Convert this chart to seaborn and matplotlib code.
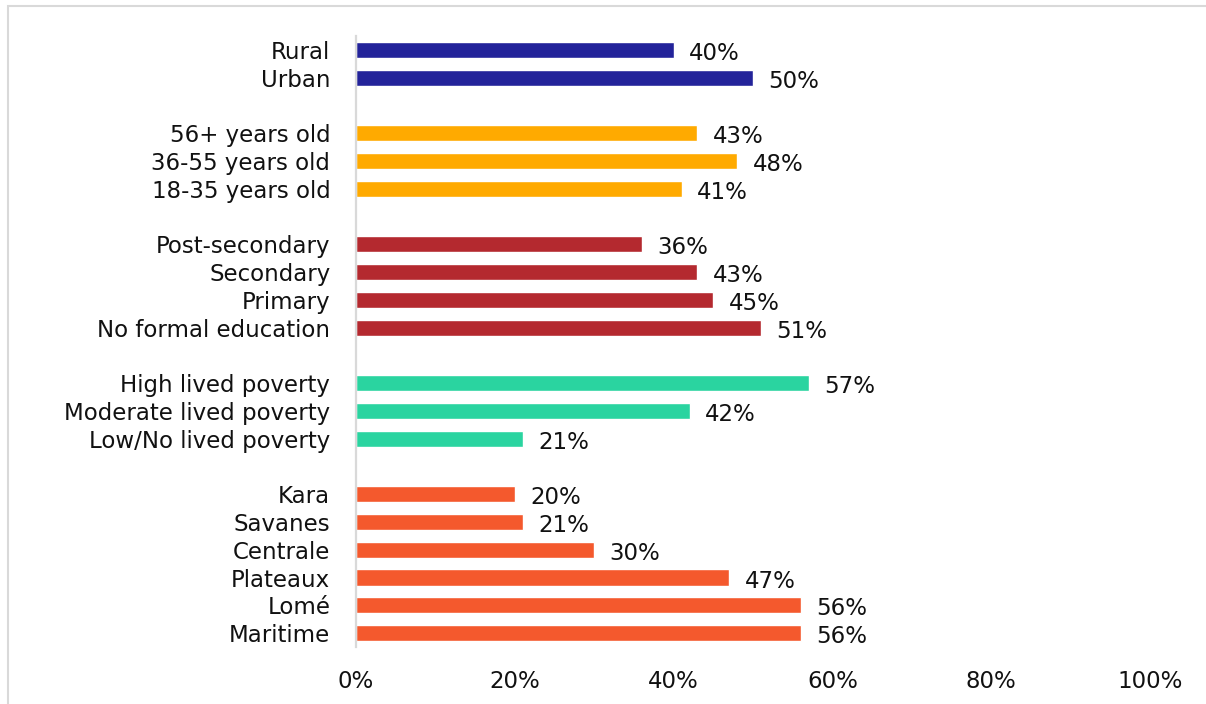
import matplotlib
matplotlib.use("Agg")
import matplotlib.pyplot as plt
import matplotlib.patches as mpatches
import seaborn as sns
import pandas as pd

# Survey breakdown: share of respondents (%) by demographic group
location = ["Rural", "Urban"]
location_vals = [40, 50]

age = ["56+ years old", "36-55 years old", "18-35 years old"]
age_vals = [43, 48, 41]

education = ["Post-secondary", "Secondary", "Primary", "No formal education"]
education_vals = [36, 43, 45, 51]

poverty = ["High lived poverty", "Moderate lived poverty", "Low/No lived poverty"]
poverty_vals = [57, 42, 21]

region = ["Kara", "Savanes", "Centrale", "Plateaux", "Lomé", "Maritime"]
region_vals = [20, 21, 30, 47, 56, 56]

groups = [
    ("Location", location, location_vals, "#23239A"),
    ("Age", age, age_vals, "#FFAA00"),
    ("Education", education, education_vals, "#B4292F"),
    ("Poverty", poverty, poverty_vals, "#2AD4A0"),
    ("Region", region, region_vals, "#F4592D"),
]

x_ticks = [0, 20, 40, 60, 80, 100]
x_ticklabels = ["0%", "20%", "40%", "60%", "80%", "100%"]

rows = []
order = []
palette = {}
for i, (gname, labels, vals, color) in enumerate(groups):
    if i > 0:
        order.append(" " * i)  # blank slot between groups
    for lab, v in zip(labels, vals):
        rows.append({"label": lab, "value": v, "group": gname})
        order.append(lab)
    palette[gname] = color
df = pd.DataFrame(rows)

sns.set_theme(style="white")
plt.rcParams["font.family"] = ["DejaVu Sans"]

FS = 16.5
fig = plt.figure(figsize=(12.06, 7.04), dpi=100)
ax = fig.add_axes([0.2952, 0.0810, 0.9536 - 0.2952, 0.9489 - 0.0810])

sns.barplot(data=df, x="value", y="label", hue="group", order=order,
            palette=palette, dodge=False, width=0.58, saturation=1,
            legend=False, ax=ax)

for container in ax.containers:
    for patch in container:
        w = patch.get_width()
        if w != w:  # skip empty slots
            continue
        ax.annotate(f"{w:.0f}%", xy=(w, patch.get_y() + patch.get_height() / 2),
                    xytext=(11, -2.5), textcoords="offset points",
                    ha="left", va="center", fontsize=FS, color="#111111")

ax.set_xlim(0, 100)
ax.set_ylim(len(order) - 0.5, -0.5)
ax.set_xticks(x_ticks)
ax.set_xticklabels(x_ticklabels)
ax.set_xlabel("")
ax.set_ylabel("")
ax.tick_params(axis="x", length=0, pad=16.5, labelsize=FS, labelcolor="#111111")
ax.tick_params(axis="y", length=0, pad=18.5, labelsize=FS, labelcolor="#111111")

for side in ["top", "right", "bottom"]:
    ax.spines[side].set_visible(False)
ax.spines["left"].set_color("#D9D9D9")
ax.spines["left"].set_linewidth(1.6)

# chart frame
fig.patches.append(mpatches.Rectangle((8 / 1206, -0.05), 1.2, 1 - 6 / 704 + 0.05,
                                      transform=fig.transFigure, fill=False,
                                      edgecolor="#D9D9D9", linewidth=1.5))

fig.savefig("out.png", dpi=100)
